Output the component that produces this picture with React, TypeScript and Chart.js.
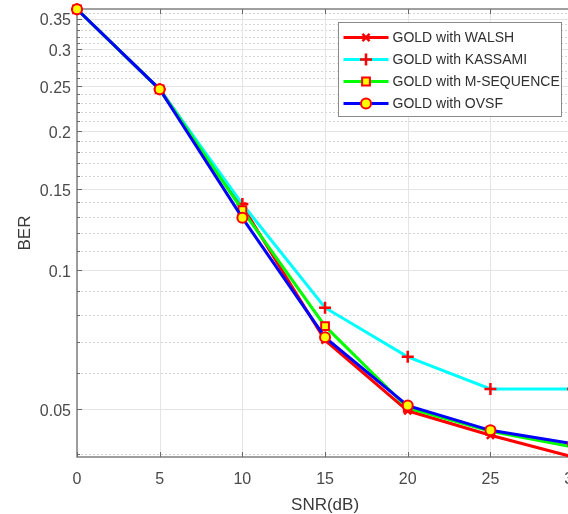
import React, { useEffect, useRef } from 'react';
import { Chart, registerables } from 'chart.js';

Chart.register(...registerables);

const snr = [0, 5, 10, 15, 20, 25, 30];
const walsh = [0.3665, 0.246, 0.1375, 0.0705, 0.0496, 0.0439, 0.0394];
const kassami = [0.3665, 0.246, 0.1389, 0.0829, 0.0649, 0.0553, 0.0553];
const mSequence = [0.3665, 0.246, 0.1348, 0.0756, 0.0503, 0.0448, 0.0414];
const ovsf = [0.3665, 0.246, 0.1297, 0.0715, 0.0509, 0.045, 0.0421];

const seriesLabels = ['GOLD with WALSH', 'GOLD with KASSAMI', 'GOLD with M-SEQUENCE', 'GOLD with OVSF'];
const xTicks = [0, 5, 10, 15, 20, 25, 30];
const yMajorTicks = [0.05, 0.1, 0.15, 0.2, 0.25, 0.3, 0.35];
const yMinorTicks = [0.04, 0.06, 0.07, 0.08, 0.09, 0.11, 0.12, 0.13, 0.14, 0.16, 0.17, 0.18, 0.19,
  0.21, 0.22, 0.23, 0.24, 0.26, 0.27, 0.28, 0.29, 0.31, 0.32, 0.33, 0.34, 0.36];
const yMin = 0.0394;
const yMax = 0.367;

const FONT = '"Liberation Sans", Arial, Helvetica, sans-serif';

function drawMarker(ctx: CanvasRenderingContext2D, style: string, x: number, y: number, r: number,
  fill: string, stroke: string, lw: number) {
  ctx.save();
  ctx.lineWidth = lw;
  ctx.strokeStyle = stroke;
  ctx.fillStyle = fill;
  ctx.beginPath();
  if (style === 'circle') {
    ctx.arc(x, y, r, 0, Math.PI * 2);
    ctx.fill();
    ctx.stroke();
  } else if (style === 'rect') {
    const s = Math.SQRT1_2 * r;
    ctx.rect(x - s, y - s, 2 * s, 2 * s);
    ctx.fill();
    ctx.stroke();
  } else if (style === 'cross') {
    ctx.moveTo(x - r, y);
    ctx.lineTo(x + r, y);
    ctx.moveTo(x, y - r);
    ctx.lineTo(x, y + r);
    ctx.stroke();
  } else if (style === 'crossRot') {
    const s = Math.SQRT1_2 * r;
    ctx.moveTo(x - s, y - s);
    ctx.lineTo(x + s, y + s);
    ctx.moveTo(x + s, y - s);
    ctx.lineTo(x - s, y + s);
    ctx.stroke();
  }
  ctx.restore();
}

const axesPlugin = {
  id: 'matlabAxes',
  beforeDatasetsDraw(chart: any) {
    const { ctx, chartArea } = chart;
    const { left, right, top, bottom } = chartArea;
    const xs = chart.scales.x;
    const ys = chart.scales.y;
    ctx.save();
    ctx.strokeStyle = '#d4d4d4';
    ctx.lineWidth = 1;
    ctx.setLineDash([2, 2]);
    for (const v of yMinorTicks) {
      const py = Math.round(ys.getPixelForValue(v)) + 0.5;
      ctx.beginPath();
      ctx.moveTo(left, py);
      ctx.lineTo(right, py);
      ctx.stroke();
    }
    ctx.setLineDash([]);
    ctx.strokeStyle = '#e4e4e4';
    for (const v of yMajorTicks) {
      const py = Math.round(ys.getPixelForValue(v)) + 0.5;
      ctx.beginPath();
      ctx.moveTo(left, py);
      ctx.lineTo(right, py);
      ctx.stroke();
    }
    for (const v of xTicks) {
      const px = Math.round(xs.getPixelForValue(v)) + 0.5;
      ctx.beginPath();
      ctx.moveTo(px, top);
      ctx.lineTo(px, bottom);
      ctx.stroke();
    }
    ctx.strokeStyle = '#808080';
    ctx.lineWidth = 1.5;
    ctx.beginPath();
    ctx.rect(left, top, right - left, bottom - top);
    ctx.stroke();
    ctx.lineWidth = 1;
    ctx.strokeStyle = '#6a6a6a';
    for (const v of yMajorTicks) {
      const py = Math.round(ys.getPixelForValue(v)) + 0.5;
      ctx.beginPath();
      ctx.moveTo(left, py);
      ctx.lineTo(left + 5, py);
      ctx.stroke();
    }
    for (const v of yMinorTicks) {
      const py = Math.round(ys.getPixelForValue(v)) + 0.5;
      ctx.beginPath();
      ctx.moveTo(left, py);
      ctx.lineTo(left + 3, py);
      ctx.stroke();
    }
    for (const v of xTicks) {
      const px = Math.round(xs.getPixelForValue(v)) + 0.5;
      ctx.beginPath();
      ctx.moveTo(px, bottom);
      ctx.lineTo(px, bottom - 5);
      ctx.moveTo(px, top);
      ctx.lineTo(px, top + 5);
      ctx.stroke();
    }
    ctx.restore();
  },
  afterDraw(chart: any) {
    const { ctx, chartArea } = chart;
    const bw = 223;
    const bh = 94;
    const bx = Math.round(chartArea.right - 12 - bw) + 0.5;
    const by = Math.round(chartArea.top + 13) + 0.5;
    ctx.save();
    ctx.fillStyle = '#ffffff';
    ctx.fillRect(bx, by, bw, bh);
    ctx.strokeStyle = '#8a8a8a';
    ctx.lineWidth = 1;
    ctx.strokeRect(bx, by, bw, bh);
    chart.data.datasets.forEach((ds: any, i: number) => {
      const ry = by + 15 + i * 22;
      ctx.strokeStyle = ds.borderColor;
      ctx.lineWidth = ds.borderWidth;
      ctx.beginPath();
      ctx.moveTo(bx + 5, ry);
      ctx.lineTo(bx + 50, ry);
      ctx.stroke();
      drawMarker(ctx, ds.pointStyle, bx + 27.5, ry, ds.pointRadius,
        ds.pointBackgroundColor, ds.pointBorderColor, ds.pointBorderWidth);
      ctx.fillStyle = '#303030';
      ctx.font = '14px ' + FONT;
      ctx.textBaseline = 'middle';
      ctx.textAlign = 'left';
      ctx.fillText(ds.label, bx + 54, ry + 1);
    });
    ctx.restore();
  },
};

export default function App() {
  const ref = useRef<HTMLCanvasElement | null>(null);
  useEffect(() => {
    if (!ref.current) return;
    const toXY = (arr: number[]) => arr.map((v, i) => ({ x: snr[i], y: v }));
    const chart = new Chart(ref.current, {
      type: 'line',
      data: {
        datasets: [
          {
            label: seriesLabels[0], data: toXY(walsh), borderColor: '#ff0000', borderWidth: 3,
            pointStyle: 'crossRot', pointRadius: 5, pointBorderColor: '#ff0000',
            pointBackgroundColor: '#ff0000', pointBorderWidth: 2.5, order: 4, clip: false,
          },
          {
            label: seriesLabels[1], data: toXY(kassami), borderColor: '#00ffff', borderWidth: 3,
            pointStyle: 'cross', pointRadius: 6, pointBorderColor: '#ff0000',
            pointBackgroundColor: '#ff0000', pointBorderWidth: 2.5, order: 3, clip: false,
          },
          {
            label: seriesLabels[2], data: toXY(mSequence), borderColor: '#00ff00', borderWidth: 3,
            pointStyle: 'rect', pointRadius: 5.5, pointBorderColor: '#ff0000',
            pointBackgroundColor: '#ffff00', pointBorderWidth: 2, order: 2, clip: false,
          },
          {
            label: seriesLabels[3], data: toXY(ovsf), borderColor: '#0000ff', borderWidth: 3,
            pointStyle: 'circle', pointRadius: 5, pointBorderColor: '#ff0000',
            pointBackgroundColor: '#ffff00', pointBorderWidth: 2, order: 1, clip: false,
          },
        ] as any,
      },
      options: {
        animation: false,
        responsive: false,
        devicePixelRatio: 1,
        layout: { padding: { top: 9, left: 0, right: 0, bottom: 0 } },
        plugins: { legend: { display: false }, tooltip: { enabled: false } },
        elements: { line: { tension: 0 } },
        scales: {
          x: {
            type: 'linear',
            min: 0,
            max: 30,
            afterBuildTicks: (scale: any) => { scale.ticks = xTicks.map((v) => ({ value: v })); },
            ticks: { color: '#4a4a4a', font: { family: FONT, size: 16 }, padding: 13, autoSkip: false, maxRotation: 0 },
            grid: { display: false, drawTicks: false },
            border: { display: false },
            title: { display: true, text: 'SNR(dB)', color: '#3a3a3a', font: { family: FONT, size: 17, lineHeight: 1 }, padding: { top: 0, bottom: 0 } },
            afterFit: (scale: any) => { scale.height = 57; },
          },
          y: {
            type: 'logarithmic',
            min: yMin,
            max: yMax,
            afterBuildTicks: (scale: any) => {
              scale.ticks = [...yMinorTicks, ...yMajorTicks].sort((a, b) => a - b).map((v) => ({ value: v }));
            },
            ticks: {
              color: '#4a4a4a', font: { family: FONT, size: 16 }, padding: 6, autoSkip: false, labelOffset: 2.5,
              callback: (value: any) => (yMajorTicks.includes(Number(value)) ? String(value) : ''),
            },
            grid: { display: false, drawTicks: false },
            border: { display: false },
            title: { display: true, text: 'BER', color: '#3a3a3a', font: { family: FONT, size: 17, lineHeight: 1 }, padding: { top: 16.5, bottom: 0 } },
            afterFit: (scale: any) => { scale.width = 77; scale.paddingTop = 0; scale.paddingBottom = 0; },
          },
        },
      } as any,
      plugins: [axesPlugin],
    });
    return () => chart.destroy();
  }, []);
  return (
    <div style={{ position: 'absolute', left: 0, top: 0, width: 568, height: 514, overflow: 'hidden', background: '#fff' }}>
      <canvas ref={ref} width={595} height={514} style={{ display: 'block' }} />
    </div>
  );
}
